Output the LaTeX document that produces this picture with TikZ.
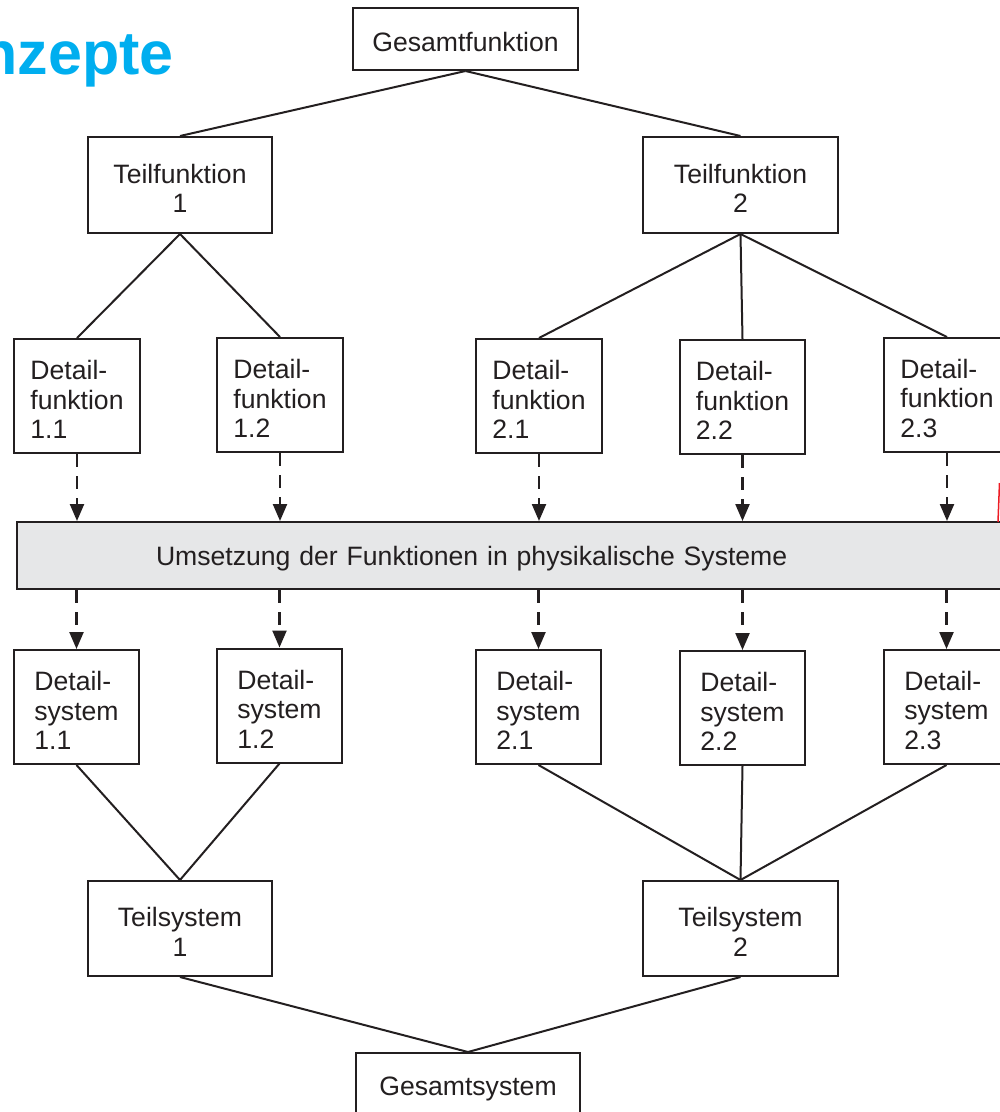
\documentclass[tikz,border=0pt]{standalone}
\usepackage{fontspec}
\setmainfont{Liberation Sans}
\usetikzlibrary{arrows.meta}
\definecolor{ink}{HTML}{231F20}
\definecolor{bandgrey}{HTML}{E6E7E8}
\definecolor{titlecyan}{HTML}{00AEEF}
\definecolor{markred}{HTML}{ED1C24}
\newcommand{\toprule}{\rule{0pt}{26pt}}
\begin{document}
\begin{tikzpicture}[x=1pt,y=-1pt,
  box/.style={draw=ink, line width=2pt, fill=white, inner sep=0pt, text=ink,
    font=\fontsize{26.6}{29.5}\selectfont},
  topbox/.style={box, align=center, minimum width=225pt, minimum height=62pt},
  teilbox/.style={box, align=center, minimum height=96pt},
  detailbox/.style={box, align=left, minimum width=126pt, minimum height=114pt},
  bandbox/.style={draw=ink, line width=2pt, fill=bandgrey, text=ink, align=left,
    font=\fontsize{26.6}{29.5}\selectfont, minimum height=67pt,
    text width=726pt, inner xsep=139pt, inner ysep=0pt},
  conn/.style={draw=ink, line width=2pt},
  dasharrow/.style={draw=ink, line width=2.3pt, dash pattern=on 13pt off 9pt,
    -{Triangle[width=14pt,length=17pt]}},
]
\useasboundingbox (0,0) rectangle (1000,1112);
\clip (0,0) rectangle (1000,1112);

% title fragment
\node[anchor=base east, text=titlecyan, inner sep=0pt,
  font=\fontsize{61}{61}\selectfont\bfseries] (title) at (174,74) {nzepte};

% top levels
\node[topbox] (gf) at (465.5,39) {\toprule Gesamtfunktion};
\node[teilbox, minimum width=184pt] (tf1) at (180,185) {\toprule Teilfunktion\\1};
\node[teilbox, minimum width=195pt] (tf2) at (740.5,185) {\toprule Teilfunktion\\2};

% detail functions
\node[detailbox] (df11) at (77,396) {\toprule Detail-\\funktion\\1.1};
\node[detailbox] (df12) at (280,395) {\toprule Detail-\\funktion\\1.2};
\node[detailbox] (df21) at (539,396) {\toprule Detail-\\funktion\\2.1};
\node[detailbox, minimum width=125pt] (df22) at (742.5,397) {\toprule Detail-\\funktion\\2.2};
\node[detailbox] (df23) at (947,395) {\toprule Detail-\\funktion\\2.3};

% band
\node[bandbox, anchor=west] (band) at (16,555.5) {\toprule Umsetzung der Funktionen in physikalische Systeme};

% detail systems
\node[detailbox, minimum width=125pt] (ds11) at (76.5,707) {\toprule Detail-\\system\\1.1};
\node[detailbox, minimum width=125pt] (ds12) at (279.5,705.5) {\toprule Detail-\\system\\1.2};
\node[detailbox, minimum width=125pt] (ds21) at (538.5,707) {\toprule Detail-\\system\\2.1};
\node[detailbox, minimum width=125pt] (ds22) at (742.5,708) {\toprule Detail-\\system\\2.2};
\node[detailbox, minimum width=125pt] (ds23) at (946.5,707) {\toprule Detail-\\system\\2.3};

% sub systems and total system
\node[teilbox, minimum width=184pt, minimum height=95pt] (ts1) at (180,928.5) {\toprule Teilsystem\\1};
\node[teilbox, minimum width=195pt, minimum height=95pt] (ts2) at (740.5,928.5) {\toprule Teilsystem\\2};
\node[topbox, minimum width=224pt, minimum height=64pt] (gs) at (468,1085) {\toprule Gesamtsystem};

% tree connectors (functions)
\draw[conn] (gf.south) -- (tf1.north);
\draw[conn] (gf.south) -- (tf2.north);
\draw[conn] (tf1.south) -- (df11.north);
\draw[conn] (tf1.south) -- (df12.north);
\draw[conn] (tf2.south) -- (df21.north);
\draw[conn] (tf2.south) -- (df22.north);
\draw[conn] (tf2.south) -- (df23.north);

% dashed arrows into and out of the band
\foreach \n in {df11,df12,df21,df22,df23}
  \draw[dasharrow] (\n.south) -- (\n.south |- band.north);
\foreach \n in {ds11,ds12,ds21,ds22,ds23}
  \draw[dasharrow] (\n.north |- band.south) -- (\n.north);

% tree connectors (systems)
\draw[conn] (ds11.south) -- (ts1.north);
\draw[conn] (ds12.south) -- (ts1.north);
\draw[conn] (ds21.south) -- (ts2.north);
\draw[conn] (ds22.south) -- (ts2.north);
\draw[conn] (ds23.south) -- (ts2.north);
\draw[conn] (ts1.south) -- (gs.north);
\draw[conn] (ts2.south) -- (gs.north);

% red fragment at right edge
\coordinate (redtop) at (999.5,483);
\coordinate (redbot) at (998,522);
\draw[markred, line width=1.5pt] (redtop) -- (redbot);
\end{tikzpicture}
\end{document}
